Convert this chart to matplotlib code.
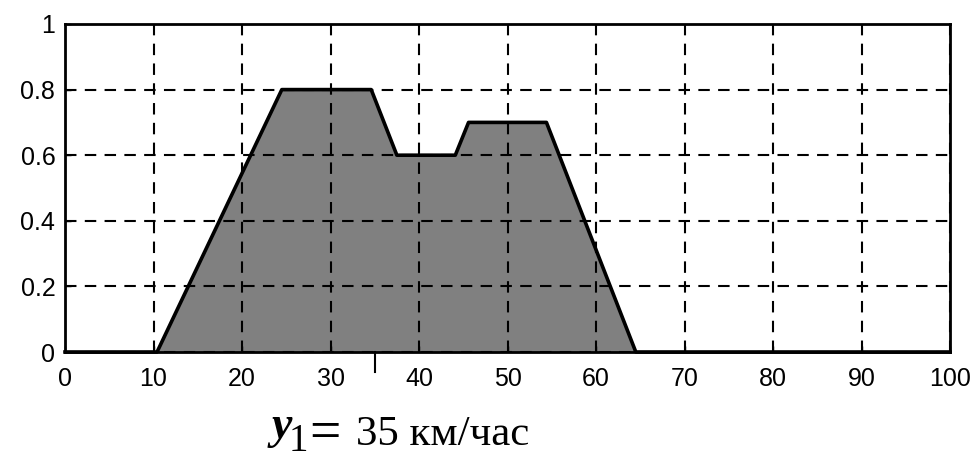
import numpy as np
import matplotlib.pyplot as plt

# membership function break points
speed = [0, 10.4, 24.5, 34.6, 37.5, 44.1, 45.6, 54.4, 64.5, 100]
mu = [0, 0, 0.8, 0.8, 0.6, 0.6, 0.7, 0.7, 0, 0]
y1 = 35
xticks = [0, 10, 20, 30, 40, 50, 60, 70, 80, 90, 100]
yticks = [0, 0.2, 0.4, 0.6, 0.8, 1]
ytick_labels = ['0', '0.2', '0.4', '0.6', '0.8', '1']

W, H = 977, 462
fig = plt.figure(figsize=(W / 100, H / 100), dpi=100)
ax = fig.add_axes([65 / W, 1 - 352 / H, 885 / W, 328 / H])

ax.fill_between(speed, mu, 0, color='#808080', zorder=2)
ax.plot(speed, mu, color='black', lw=2.6, zorder=3, clip_on=False)

ax.set_xlim(0, 100)
ax.set_ylim(0, 1)
ax.set_xticks(xticks)
ax.set_yticks(yticks)
ax.set_yticklabels(ytick_labels)
ax.grid(True, color='black', linestyle=(0, (5.5, 4)), lw=1.5, zorder=1)
ax.set_axisbelow(False)
for s in ax.spines.values():
    s.set_linewidth(2)
    s.set_zorder(4)
ax.tick_params(direction='in', length=4, width=1, labelsize=18)
ax.tick_params(axis='x', pad=11)
ax.tick_params(axis='y', pad=7)
for lab in ax.get_xticklabels() + ax.get_yticklabels():
    lab.set_family('Liberation Sans')

# marker for the crisp input value
ax.plot([y1, y1], [0, -0.062], color='black', lw=1.5, clip_on=False)

# caption: y1 = 35 km/h
fig.text(272 / W, 1 - 438 / H, 'y', family='Liberation Serif', style='italic',
         fontweight='bold', fontsize=33, ha='left', va='baseline')
fig.text(289 / W, 1 - 451 / H, '1', family='Liberation Serif',
         fontsize=28, ha='left', va='baseline')
fig.text(309 / W, 1 - 449 / H, '=', family='Liberation Serif',
         fontsize=40, ha='left', va='baseline')
fig.text(356 / W, 1 - 445 / H, '35 км/час', family='Liberation Serif',
         fontsize=31, ha='left', va='baseline')

fig.savefig('out.png', dpi=100)
